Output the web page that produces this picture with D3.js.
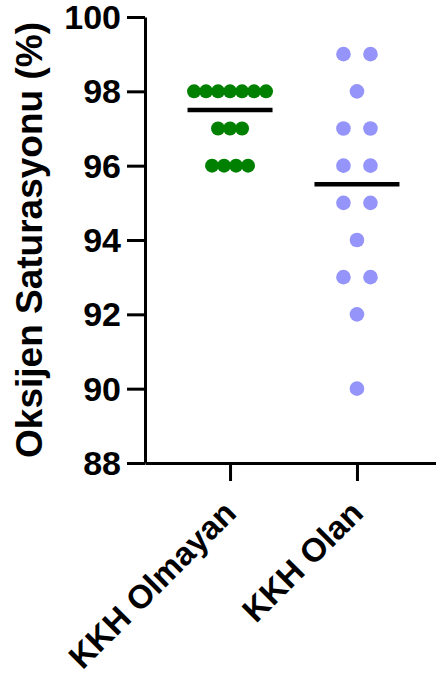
<!DOCTYPE html>
<html>
<head>
<meta charset="utf-8">
<script src="https://cdn.jsdelivr.net/npm/d3@7"></script>
<style>
	body { margin: 0; background: #fff; }
	svg { display: block; }
</style>
</head>
<body>
<svg id="chart" width="436" height="675"></svg>
<script>

// Data
const groups = ["KKH Olmayan", "KKH Olan"];
const olmayanValues = [98, 98, 98, 98, 98, 98, 98, 97, 97, 97, 96, 96, 96, 96];
const olanValues = [99, 99, 98, 97, 97, 96, 96, 95, 95, 94, 93, 93, 92, 90];
const yTicks = [88, 90, 92, 94, 96, 98, 100];
const yTitle = "Oksijen Saturasyonu (%)";
const groupColors = ["#008000", "#9494FA"];

// Settings
const settings = {
	font: "'Liberation Sans', Arial, Helvetica, sans-serif",
	axisWidth: 3,
	dot: { radius: [7, 7.3], spacing: [12, 27] },
	median: { halfWidth: 42.5, width: 4.5 }
};

function drawScatter(svgId) {

	const svg = d3.select(svgId);

	// Scales
	const y = d3.scaleLinear().domain([88, 100]).range([463, 17]);
	const x = d3.scalePoint().domain(groups).range([145, 442]).padding(0.67);

	// Y axis
	const yAxis = svg.append("g")
		.attr("transform", "translate(145,0)")
		.call(d3.axisLeft(y).tickValues(yTicks).tickSize(18).tickSizeOuter(0).tickPadding(6));

	// X axis
	const xAxis = svg.append("g")
		.attr("transform", "translate(0,463)")
		.call(d3.axisBottom(x).tickSize(18).tickSizeOuter(0).tickFormat(""));

	[yAxis, xAxis].forEach(a => {
		a.select(".domain").attr("stroke-width", settings.axisWidth).attr("stroke", "#000");
		a.selectAll(".tick line").attr("stroke-width", settings.axisWidth).attr("stroke", "#000");
	});

	yAxis.selectAll(".tick text")
		.style("font-family", settings.font)
		.style("font-weight", "bold")
		.style("font-size", "34px")
		.attr("dy", "0.34em")
		.attr("fill", "#000");

	// X labels, rotated
	svg.append("g")
		.selectAll("text")
		.data(groups)
		.join("text")
		.attr("transform", d => `translate(${x(d) + 8},515) rotate(-45)`)
		.attr("text-anchor", "end")
		.style("font-family", settings.font)
		.style("font-weight", "bold")
		.style("font-size", "33px")
		.text(d => d);

	// Y title
	svg.append("text")
		.attr("transform", `translate(42,${(y(88) + y(100)) / 2}) rotate(-90)`)
		.attr("text-anchor", "middle")
		.style("font-family", settings.font)
		.style("font-weight", "bold")
		.style("font-size", "37px")
		.text(yTitle);

	// Dots, spread sideways within each value row
	[olmayanValues, olanValues].forEach((vals, g) => {
		const rows = d3.group(vals, v => v);
		const dots = [];
		rows.forEach((row, v) => {
			row.forEach((_, i) => {
				dots.push({ v: v, dx: (i - (row.length - 1) / 2) * settings.dot.spacing[g] });
			});
		});

		svg.append("g")
			.selectAll("circle")
			.data(dots)
			.join("circle")
			.attr("cx", d => x(groups[g]) + d.dx)
			.attr("cy", d => y(d.v))
			.attr("r", settings.dot.radius[g])
			.attr("fill", groupColors[g]);

		// Median line
		const med = d3.median(vals);
		svg.append("line")
			.attr("x1", x(groups[g]) - settings.median.halfWidth)
			.attr("x2", x(groups[g]) + settings.median.halfWidth)
			.attr("y1", y(med))
			.attr("y2", y(med))
			.attr("stroke", "#000")
			.attr("stroke-width", settings.median.width);
	});
}

drawScatter("#chart");
</script>
</body>
</html>
